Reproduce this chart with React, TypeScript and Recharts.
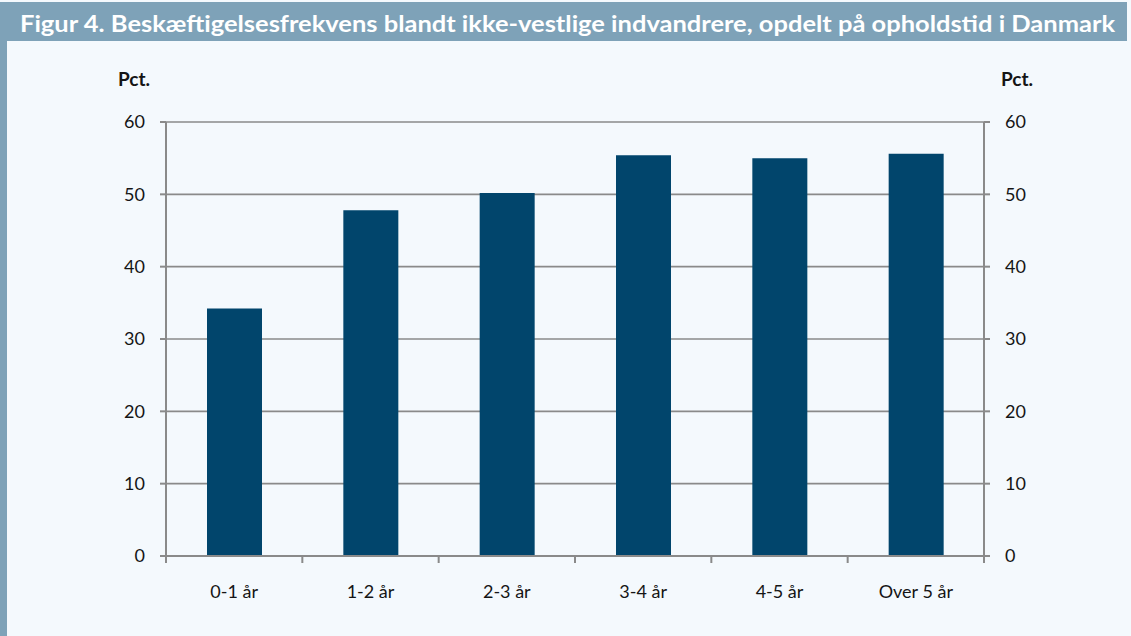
import React from "react";
import { ComposedChart, Bar, Line, XAxis, YAxis, CartesianGrid } from "recharts";

const categories = ["0-1 år", "1-2 år", "2-3 år", "3-4 år", "4-5 år", "Over 5 år"];
const values = [34.2, 47.8, 50.2, 55.4, 55.0, 55.6];
const yTicks = [0, 10, 20, 30, 40, 50, 60];
const title =
  "Figur 4. Beskæftigelsesfrekvens blandt ikke-vestlige indvandrere, opdelt på opholdstid i Danmark";
const unitLabel = "Pct.";

const data = categories.map((c, i) => ({ category: c, value: values[i] }));

const W = 1131;
const H = 636;
const FONT = "Lato, 'Open Sans', sans-serif";
const AXIS = "#8a8a8a";
const BAR = "#01456c";
const TEXT = "#151515";
const FRAME = "#7ea2b8";

const XTick = (props: any) => {
  const { x, y, payload, index, visibleTicksCount } = props;
  const half = payload && payload.offset ? payload.offset : (984 - 166) / categories.length / 2;
  const count = visibleTicksCount || categories.length;
  return (
    <g>
      <line x1={x - half} x2={x - half} y1={y} y2={y + 7} stroke={AXIS} strokeWidth={2} />
      {index === count - 1 && (
        <line x1={x + half} x2={x + half} y1={y} y2={y + 7} stroke={AXIS} strokeWidth={2} />
      )}
      <text x={x} y={y + 42} textAnchor="middle" fontFamily={FONT} fontSize={18} fill={TEXT}>
        {payload.value}
      </text>
    </g>
  );
};

const YTick = (props: any) => {
  const { x, y, payload, textAnchor } = props;
  return (
    <text
      x={x}
      y={y}
      dy="0.36em"
      textAnchor={textAnchor}
      fontFamily={FONT}
      fontSize={18}
      fill={TEXT}
    >
      {payload.value}
    </text>
  );
};

export default function App() {
  return (
    <div
      style={{
        position: "absolute",
        left: 0,
        top: 0,
        width: W,
        height: H,
        background: "#f4f9fd",
        overflow: "hidden",
      }}
    >
      <ComposedChart
        width={W}
        height={H}
        data={data}
        margin={{ top: 122, right: 87, bottom: 40, left: 106 }}
        barSize={55}
      >
        <CartesianGrid yAxisId="left" vertical={false} stroke={AXIS} strokeWidth={1.6} />
        <XAxis
          dataKey="category"
          height={40}
          tickLine={false}
          tickSize={0}
          tickMargin={0}
          axisLine={{ stroke: AXIS, strokeWidth: 2 }}
          tick={<XTick />}
          interval={0}
        />
        <YAxis
          yAxisId="left"
          width={60}
          domain={[0, 60]}
          ticks={yTicks}
          tickSize={6}
          tickMargin={15}
          axisLine={{ stroke: AXIS, strokeWidth: 2 }}
          tickLine={{ stroke: AXIS, strokeWidth: 2 }}
          tick={<YTick />}
          interval={0}
        />
        <YAxis
          yAxisId="right"
          orientation="right"
          width={60}
          domain={[0, 60]}
          ticks={yTicks}
          tickSize={6}
          tickMargin={15}
          axisLine={{ stroke: AXIS, strokeWidth: 2 }}
          tickLine={{ stroke: AXIS, strokeWidth: 2 }}
          tick={<YTick />}
          interval={0}
        />
        <Bar yAxisId="left" dataKey="value" fill={BAR} isAnimationActive={false} />
        <Line
          yAxisId="right"
          dataKey="value"
          stroke="none"
          dot={false}
          activeDot={false}
          legendType="none"
          isAnimationActive={false}
        />
      </ComposedChart>
      <svg
        width={W}
        height={H}
        style={{ position: "absolute", left: 0, top: 0, pointerEvents: "none" }}
      >
        <rect x={0} y={2} width={1127} height={39} fill={FRAME} />
        <rect x={0} y={41} width={7} height={H - 41} fill={FRAME} />
        <text
          x={20}
          y={32}
          fontFamily={FONT}
          fontWeight={700}
          fontSize={23}
          fill="#ffffff"
          textLength={1095}
          lengthAdjust="spacingAndGlyphs"
        >
          {title}
        </text>
        <text x={118} y={86} fontFamily={FONT} fontWeight={700} fontSize={19} fill={TEXT}>
          {unitLabel}
        </text>
        <text x={1001} y={86} fontFamily={FONT} fontWeight={700} fontSize={19} fill={TEXT}>
          {unitLabel}
        </text>
      </svg>
    </div>
  );
}
